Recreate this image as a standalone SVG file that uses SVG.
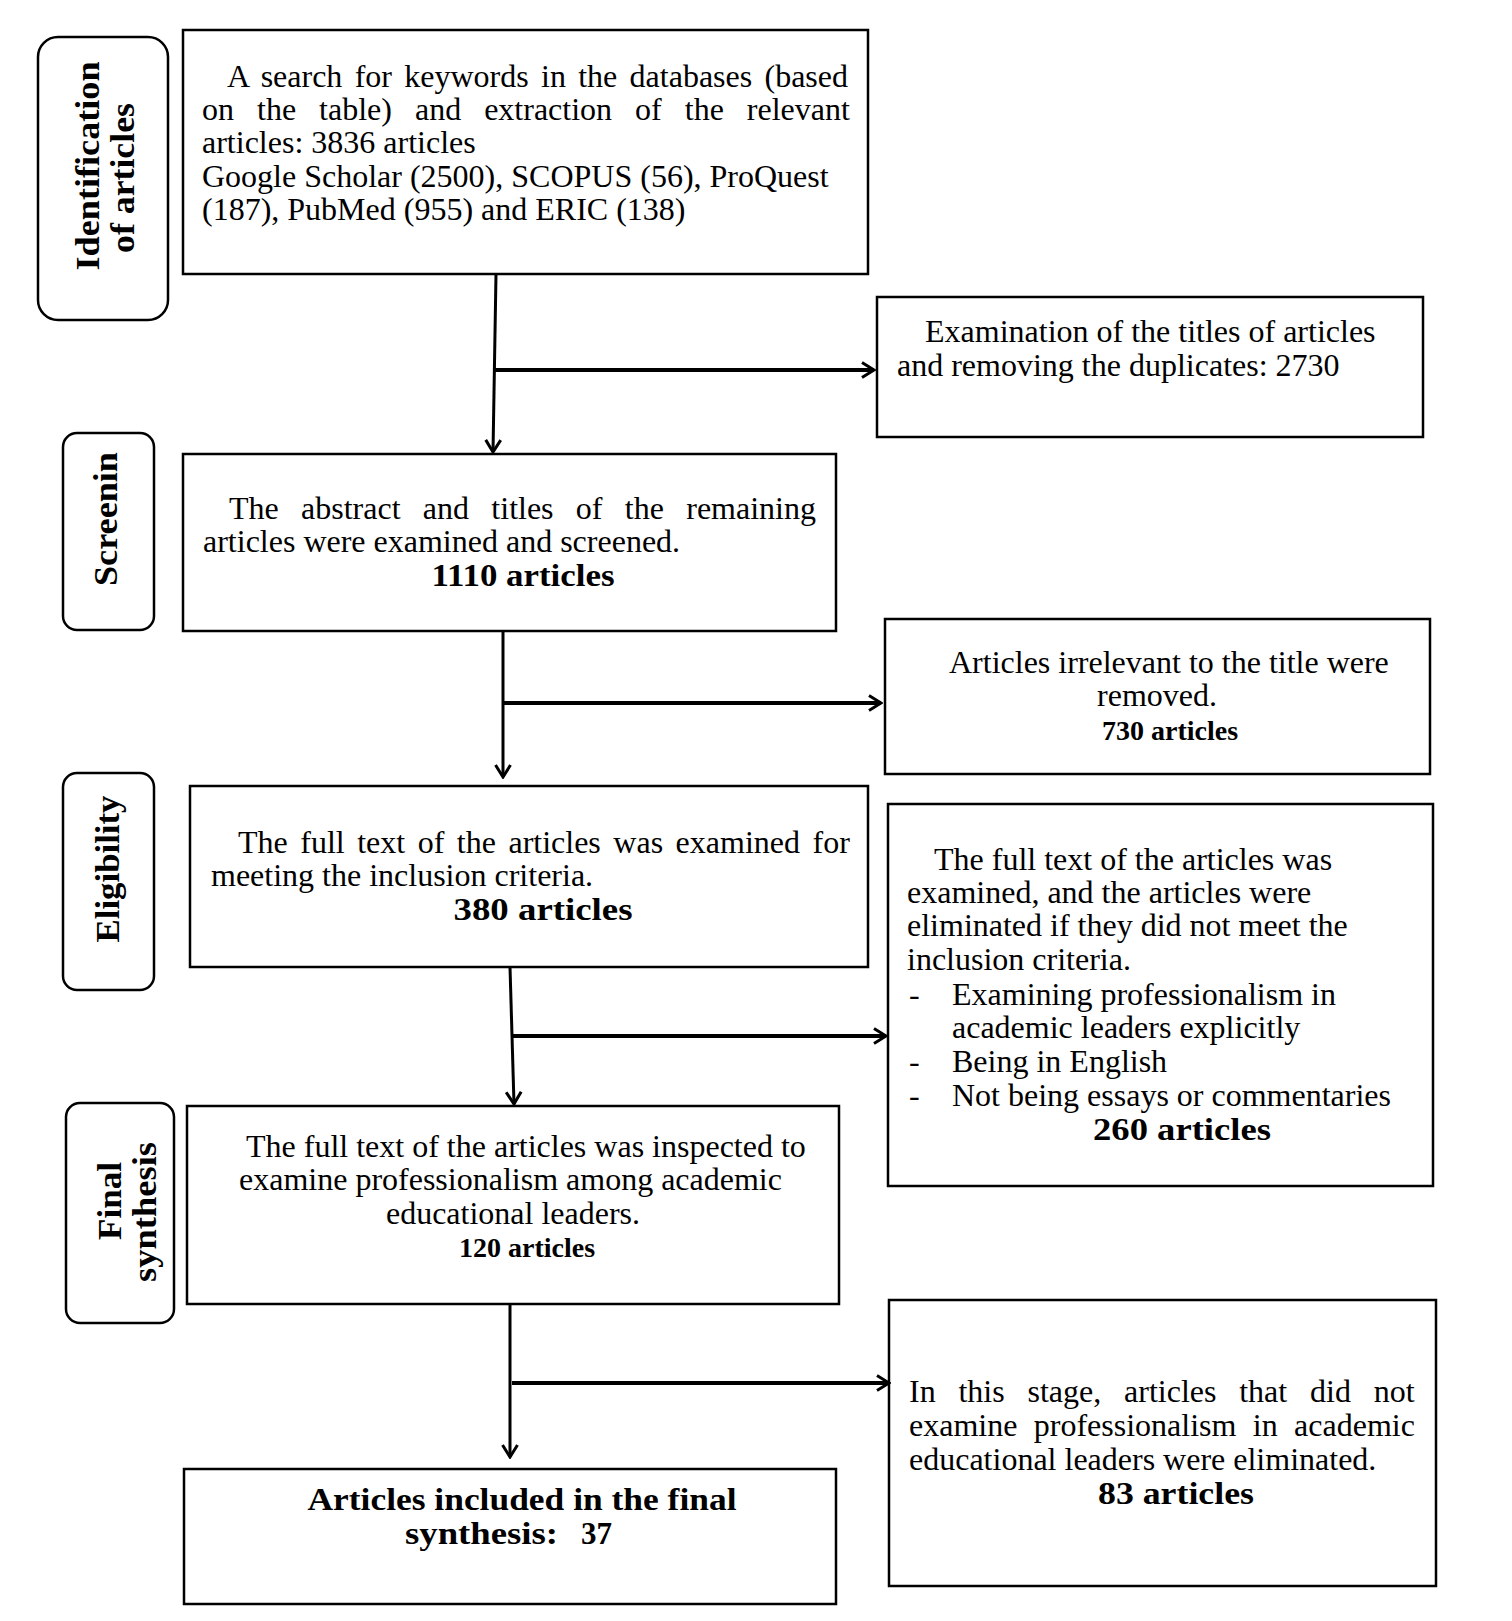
<svg xmlns="http://www.w3.org/2000/svg" width="1512" height="1621" viewBox="0 0 1512 1621">
<style>
.box{fill:#fff;stroke:#000;stroke-width:2.5}
.lbl{fill:#fff;stroke:#000;stroke-width:2.5}
.t{font-family:"Liberation Serif","Times New Roman",serif;font-size:32px;fill:#000}
.b{font-weight:bold}
.m{text-anchor:middle}
.n{font-size:31px}
.v{font-family:"Liberation Serif","Times New Roman",serif;font-size:34px;font-weight:bold;text-anchor:middle;fill:#000}
.conn line{stroke:#000;stroke-width:3;fill:none}
.conn line.h{stroke-width:4}
</style>
<defs>
<marker id="arr" viewBox="0 0 16 18" refX="14" refY="9" markerWidth="16" markerHeight="18" markerUnits="userSpaceOnUse" orient="auto">
<path d="M2,1.5 L14,9 L2,16.5" fill="none" stroke="#000" stroke-width="3"/>
</marker>
</defs>
<rect width="1512" height="1621" fill="#fff"/>

<g id="label-identification">
<rect class="lbl" x="38" y="37" width="130" height="283" rx="20"/>
<text class="v" transform="translate(99,166) rotate(-90)" textLength="209" lengthAdjust="spacingAndGlyphs">Identification</text>
<text class="v" transform="translate(134,178) rotate(-90)" textLength="150" lengthAdjust="spacingAndGlyphs">of articles</text>
</g>
<g id="label-screening">
<rect class="lbl" x="63" y="433" width="91" height="197" rx="14"/>
<text class="v" transform="translate(117,519) rotate(-90)" textLength="134" lengthAdjust="spacingAndGlyphs">Screenin</text>
</g>
<g id="label-eligibility">
<rect class="lbl" x="63" y="773" width="91" height="217" rx="14"/>
<text class="v" transform="translate(119,869) rotate(-90)" textLength="147" lengthAdjust="spacingAndGlyphs">Eligibility</text>
</g>
<g id="label-final">
<rect class="lbl" x="66" y="1103" width="108" height="220" rx="14"/>
<text class="v" transform="translate(121,1201) rotate(-90)" textLength="78" lengthAdjust="spacingAndGlyphs">Final</text>
<text class="v" transform="translate(156,1212) rotate(-90)" textLength="140" lengthAdjust="spacingAndGlyphs">synthesis</text>
</g>

<g id="node-search">
<rect class="box" x="183" y="30" width="685" height="244"/>
<text class="t" x="227" y="87" style="word-spacing:4.3px">A search for keywords in the databases (based</text>
<text class="t" x="202" y="120" style="word-spacing:15px">on the table) and extraction of the relevant</text>
<text class="t" x="202" y="153">articles: 3836 articles</text>
<text class="t" x="202" y="187">Google Scholar (2500), SCOPUS (56), ProQuest</text>
<text class="t" x="202" y="220">(187), PubMed (955) and ERIC (138)</text>
</g>

<g id="node-duplicates">
<rect class="box" x="877" y="297" width="546" height="140"/>
<text class="t" x="925" y="342">Examination of the titles of articles</text>
<text class="t" x="897" y="376">and removing the duplicates: 2730</text>
</g>

<g id="node-screened">
<rect class="box" x="183" y="454" width="653" height="177"/>
<text class="t" x="229" y="519" style="word-spacing:14.3px">The abstract and titles of the remaining</text>
<text class="t" x="203" y="552">articles were examined and screened.</text>
<text class="t b m n" x="523" y="586" textLength="183" lengthAdjust="spacingAndGlyphs">1110 articles</text>
</g>

<g id="node-irrelevant">
<rect class="box" x="885" y="619" width="545" height="155"/>
<text class="t" x="949" y="673">Articles irrelevant to the title were</text>
<text class="t m" x="1157" y="706">removed.</text>
<text class="t b m" x="1170" y="740" style="font-size:28px">730 articles</text>
</g>

<g id="node-fulltext">
<rect class="box" x="190" y="786" width="678" height="181"/>
<text class="t" x="238" y="853" style="word-spacing:4.5px">The full text of the articles was examined for</text>
<text class="t" x="211" y="886">meeting the inclusion criteria.</text>
<text class="t b m n" x="543" y="920" textLength="179" lengthAdjust="spacingAndGlyphs">380 articles</text>
</g>

<g id="node-excluded-260">
<rect class="box" x="888" y="804" width="545" height="382"/>
<text class="t" x="934" y="870">The full text of the articles was</text>
<text class="t" x="907" y="903">examined, and the articles were</text>
<text class="t" x="907" y="936">eliminated if they did not meet the</text>
<text class="t" x="907" y="970">inclusion criteria.</text>
<text class="t" x="909" y="1005">-</text>
<text class="t" x="952" y="1005">Examining professionalism in</text>
<text class="t" x="952" y="1038">academic leaders explicitly</text>
<text class="t" x="909" y="1072">-</text>
<text class="t" x="952" y="1072">Being in English</text>
<text class="t" x="909" y="1106">-</text>
<text class="t" x="952" y="1106">Not being essays or commentaries</text>
<text class="t b m n" x="1182" y="1140" textLength="178" lengthAdjust="spacingAndGlyphs">260 articles</text>
</g>

<g id="node-inspected">
<rect class="box" x="187" y="1106" width="652" height="198"/>
<text class="t" x="246" y="1157">The full text of the articles was inspected to</text>
<text class="t" x="239" y="1190">examine professionalism among academic</text>
<text class="t m" x="513" y="1224">educational leaders.</text>
<text class="t b m" x="527" y="1257" style="font-size:28px">120 articles</text>
</g>

<g id="node-excluded-83">
<rect class="box" x="889" y="1300" width="547" height="286"/>
<text class="t" x="909" y="1402" style="word-spacing:14.8px">In this stage, articles that did not</text>
<text class="t" x="909" y="1436" style="word-spacing:8.4px">examine professionalism in academic</text>
<text class="t" x="909" y="1470">educational leaders were eliminated.</text>
<text class="t b m n" x="1176" y="1504" textLength="156" lengthAdjust="spacingAndGlyphs">83 articles</text>
</g>

<g id="node-final">
<rect class="box" x="184" y="1469" width="652" height="135"/>
<text class="t b m n" x="522" y="1510" textLength="429" lengthAdjust="spacingAndGlyphs">Articles included in the final</text>
<text class="t b n" x="405" y="1544" textLength="153" lengthAdjust="spacingAndGlyphs">synthesis:</text>
<text class="t b n" x="581" y="1544">37</text>
</g>

<g id="connectors" class="conn">
<line x1="496" y1="274" x2="493" y2="452" marker-end="url(#arr)"/>
<line class="h" x1="495" y1="370" x2="874" y2="370" marker-end="url(#arr)"/>
<line x1="503" y1="631" x2="503" y2="777" marker-end="url(#arr)"/>
<line class="h" x1="503" y1="703" x2="881" y2="703" marker-end="url(#arr)"/>
<line x1="510" y1="967" x2="514" y2="1104" marker-end="url(#arr)"/>
<line class="h" x1="512" y1="1036" x2="886" y2="1036" marker-end="url(#arr)"/>
<line x1="510" y1="1304" x2="510" y2="1457" marker-end="url(#arr)"/>
<line class="h" x1="512" y1="1383" x2="889" y2="1383" marker-end="url(#arr)"/>
</g>
</svg>
